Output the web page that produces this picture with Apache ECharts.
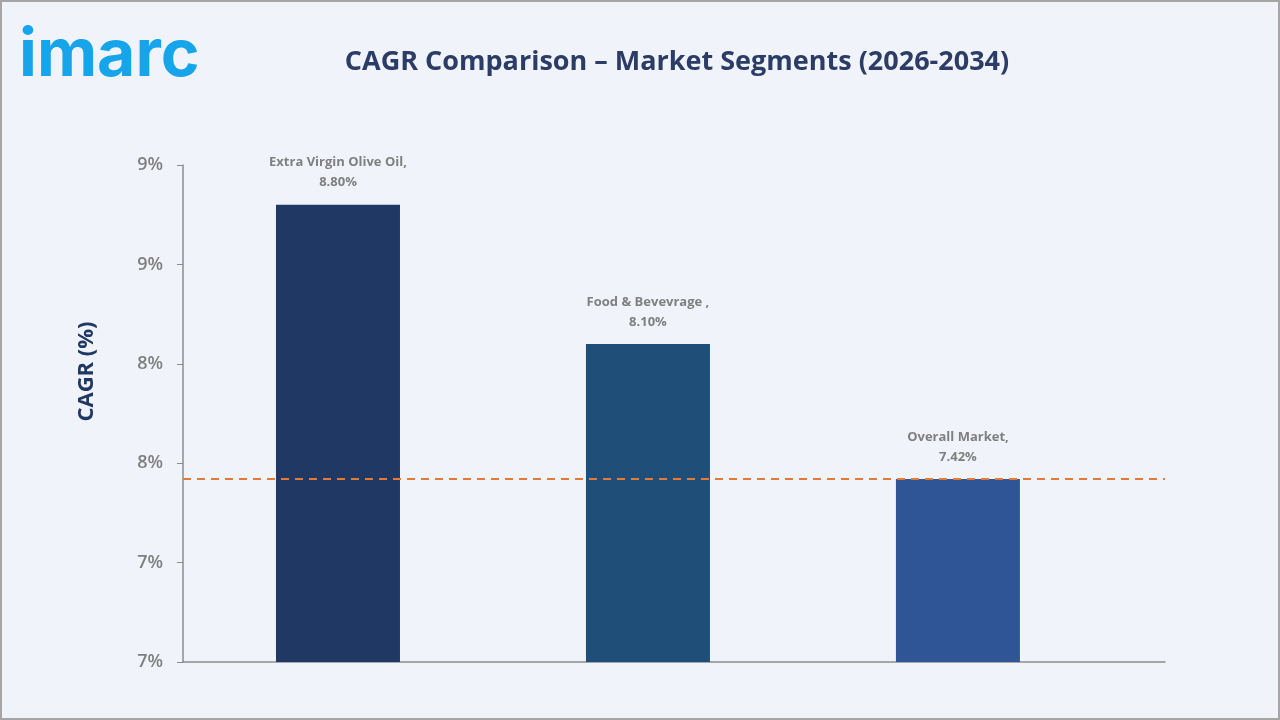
<!DOCTYPE html>
<html>
<head>
<meta charset="utf-8">
<title>CAGR Comparison</title>
<script src="https://cdn.jsdelivr.net/npm/echarts@6/dist/echarts.min.js"></script>
<style>
  html, body { margin: 0; padding: 0; background: #f0f4fa; }
  #chart { width: 1280px; height: 720px; }
</style>
</head>
<body>
<div id="chart"></div>
<script>
const categories = ["Extra Virgin Olive Oil,", "Food & Bevevrage ,", "Overall Market,"];
const cagrValues = [8.80, 8.10, 7.42];
const barColors = ["#203864", "#1f4e79", "#2f5597"];
const overallMarket = 7.42;

const colors = {
  title: "#2b3c66",
  axisName: "#203864",
  text: "#7f7f7f",
  axis: "#8c8c8c",
  dash: "#e07b39",
  logo: "#16a4ea",
};

const chart = echarts.init(document.getElementById("chart"));

const options = {
  backgroundColor: "#f0f4fa",
  animation: false,
  title: {
    text: "CAGR Comparison \u2013 Market Segments (2026-2034)",
    left: 672,
    top: 44,
    textAlign: "center",
    textStyle: {
      color: colors.title,
      fontFamily: "Open Sans",
      fontWeight: "bold",
      fontSize: 27,
    },
  },
  graphic: [
    {
      type: "text",
      left: 19,
      top: 23,
      style: {
        text: "imarc",
        fill: colors.logo,
        font: "bold 66px Inter",
      },
    },
    {
      type: "rect",
      shape: { x: 1, y: 1, width: 1278, height: 718 },
      style: { fill: "none", stroke: "#a6a6a6", lineWidth: 2 },
      z: 100,
    },
  ],
  grid: {
    left: 183,
    right: 115,
    top: 165,
    bottom: 58,
  },
  xAxis: {
    type: "value",
    min: 0,
    max: categories.length + 0.168,
    axisLine: { show: true, onZero: false, lineStyle: { color: colors.axis, width: 1.5 } },
    axisTick: { show: false },
    axisLabel: { show: false },
    splitLine: { show: false },
  },
  yAxis: {
    type: "value",
    min: 6.5,
    max: 9,
    interval: 0.5,
    name: "CAGR (%)",
    nameLocation: "middle",
    nameGap: 85,
    nameTextStyle: {
      color: colors.axisName,
      fontFamily: "Open Sans",
      fontWeight: "bold",
      fontSize: 22,
      padding: [0, 0, 0, 84],
    },
    axisLine: { show: true, lineStyle: { color: colors.axis, width: 1.5 } },
    axisTick: { show: true, length: 6, lineStyle: { color: colors.axis } },
    axisLabel: {
      color: colors.text,
      fontFamily: "Open Sans",
      fontWeight: 600,
      fontSize: 18,
      margin: 20,
      formatter: (v) => Math.round(v) + "%",
    },
    splitLine: { show: false },
  },
  series: [
    {
      type: "bar",
      barWidth: 124,
      data: cagrValues.map((v, i) => ({
        value: [i + 0.5, v],
        itemStyle: { color: barColors[i] },
        label: { formatter: categories[i] + "\n" + v.toFixed(2) + "%" },
      })),
      label: {
        show: true,
        position: "top",
        distance: 12,
        color: colors.text,
        fontFamily: "Open Sans",
        fontWeight: "bold",
        fontSize: 13,
        lineHeight: 20,
      },
      markLine: {
        symbol: "none",
        silent: true,
        label: { show: false },
        lineStyle: { color: colors.dash, type: [8, 6], width: 2 },
        data: [{ yAxis: overallMarket }],
      },
    },
  ],
};

chart.setOption(options);
window.addEventListener("resize", () => chart.resize(), { passive: true });
</script>
</body>
</html>
